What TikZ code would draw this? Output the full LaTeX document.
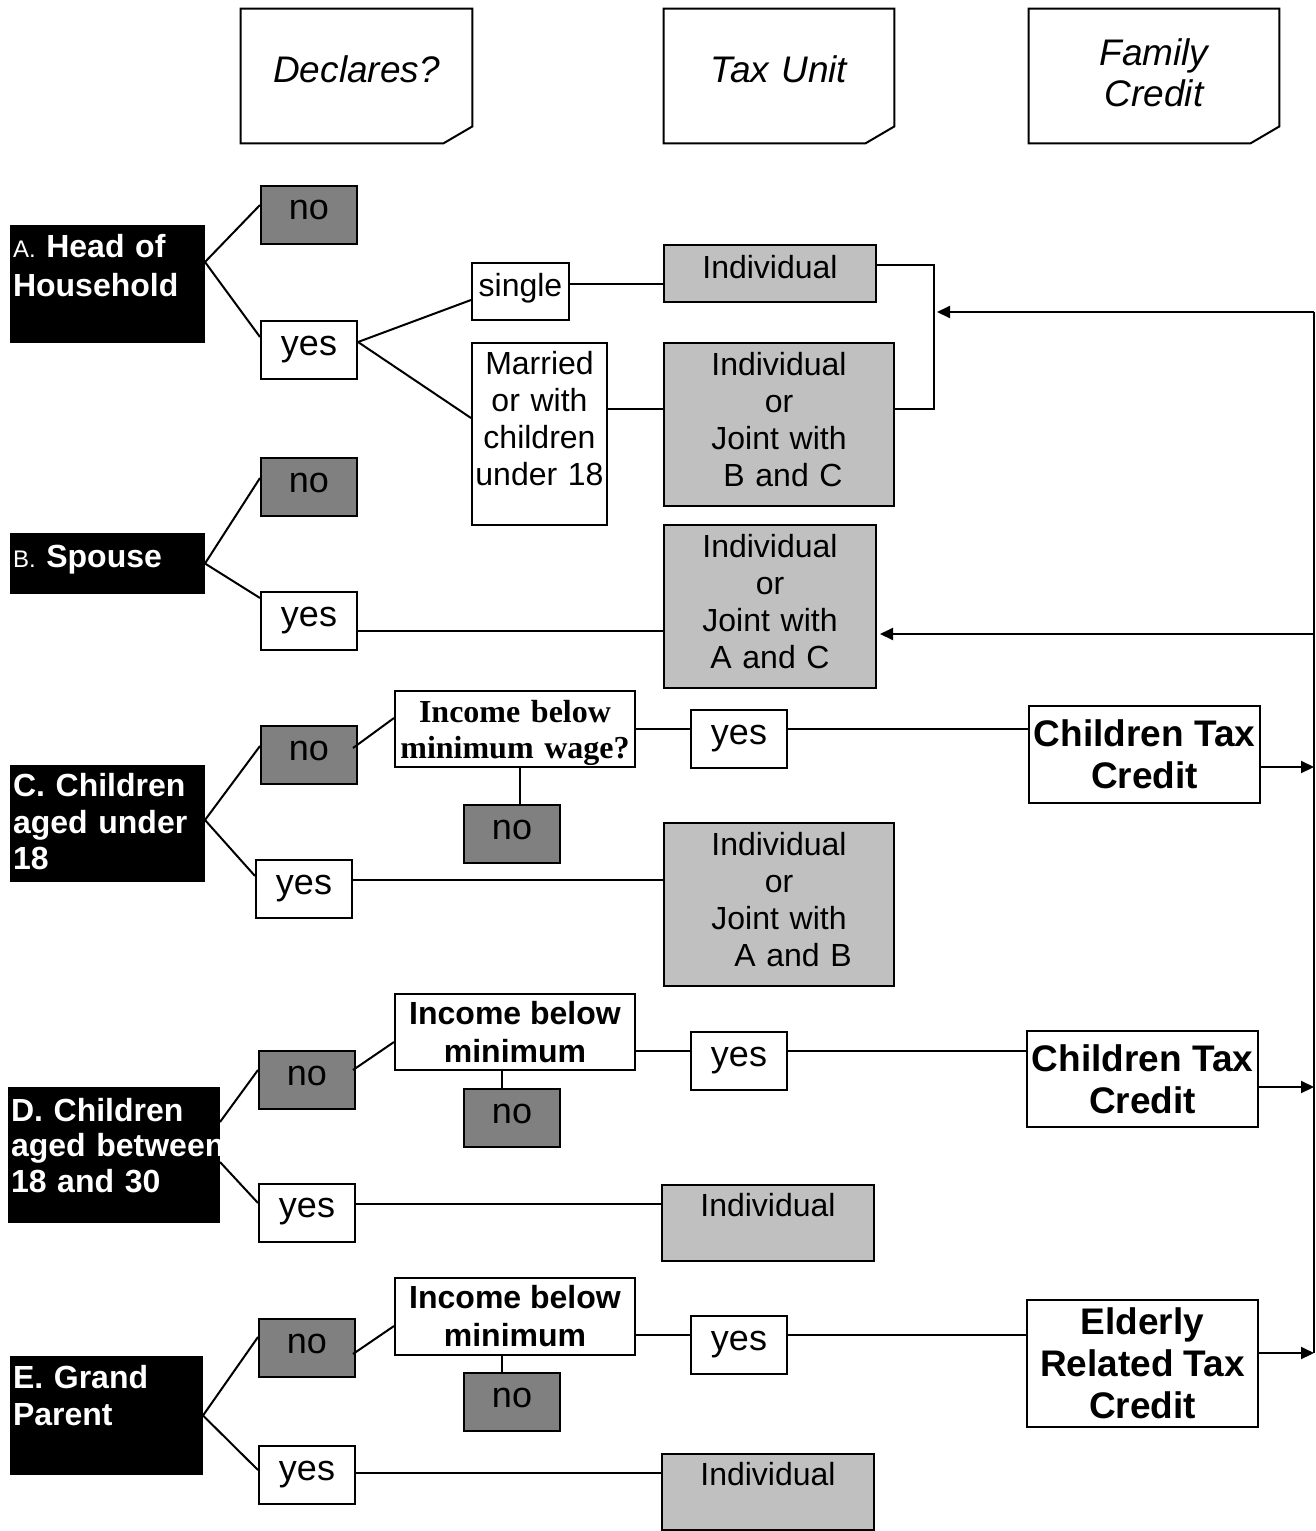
\documentclass[tikz,border=0pt]{standalone}
\usepackage{fontspec}
\setmainfont{Liberation Sans}
\newfontfamily\timesbf{Liberation Serif}
\usetikzlibrary{arrows.meta}
\definecolor{DarkGrey}{HTML}{808080}
\definecolor{LightGrey}{HTML}{C0C0C0}
\tikzset{
    % Box styles - all sharp corners
    header/.style={
        rectangle,
        inner sep=0pt,
        align=center,
        font=\fontsize{18.5}{20.5}\selectfont\itshape
    },
    member/.style={
        rectangle,
        draw=black,
        fill=black,
        text=white,
        line width=1pt,
        inner xsep=1pt,
        inner ysep=0pt,
        align=left,
        font=\fontsize{16}{18.25}\selectfont\bfseries
    },
    answer/.style={
        rectangle,
        draw=black,
        fill=DarkGrey,
        line width=1pt,
        minimum width=48pt,
        minimum height=29pt,
        inner sep=0pt,
        text height=10pt,
        text depth=5pt,
        font=\fontsize{18}{20}\selectfont
    },
    yesbox/.style={
        answer,
        fill=white
    },
    choice/.style={
        rectangle,
        draw=black,
        fill=white,
        line width=1pt,
        inner sep=0pt,
        align=center,
        font=\fontsize{16}{18.5}\selectfont
    },
    unit/.style={
        choice,
        fill=LightGrey
    },
    query/.style={
        rectangle,
        draw=black,
        fill=white,
        line width=1pt,
        minimum width=120pt,
        minimum height=38pt,
        inner sep=0pt,
        align=center,
        font=\fontsize{16}{19}\selectfont\bfseries
    },
    credit/.style={
        rectangle,
        draw=black,
        fill=white,
        line width=1pt,
        minimum width=115.5pt,
        inner sep=0pt,
        align=center,
        font=\fontsize{18.5}{21}\selectfont\bfseries
    },
    % Line styles - straight lines only
    link/.style={
        line width=1pt,
        draw=black
    },
    arrow/.style={
        ->,
        >={Triangle[length=6.5pt, width=6pt]},
        line width=1pt,
        draw=black
    }
}

\begin{document}
\begin{tikzpicture}[x=0.5pt, y=-0.5pt]
    \useasboundingbox (0,0) rectangle (1316,1531);

    % column headers
    \node[header, text width=115.5pt, text height=36.5pt, text depth=30.5pt] (hdecl) at (356.5,76) {Declares?};
    \node[header, text width=115pt, text height=36.5pt, text depth=30.5pt] (htax) at (779,76) {Tax Unit};
    \node[header, text width=125pt, text height=28pt, text depth=39pt] (hfam) at (1154,76) {Family\\Credit};
    \foreach \h in {hdecl, htax, hfam}
        \draw[link] (\h.north west) -- (\h.north east) -- ([yshift=8.5pt]\h.south east)
            -- ([xshift=-14.5pt]\h.south east) -- (\h.south west) -- cycle;

    % household members
    \node[member, text width=94.5pt, text height=15.75pt, text depth=42.25pt, font=\fontsize{16}{19.5}\selectfont\bfseries] (ahead) at (107.5,284) {{\mdseries\fontsize{12}{14}\selectfont A.} Head of\\Household};
    \node[member, text width=94.5pt, text height=16.75pt, text depth=12.75pt] (bspouse) at (107.5,563.5) {{\mdseries\fontsize{12}{14}\selectfont B.} Spouse};
    \node[member, text width=94.5pt, text height=15.25pt, text depth=42.25pt] (cchild) at (107.5,823.5) {C. Children\\aged under\\18};
    \node[member, text width=103pt, text height=16.5pt, text depth=50.5pt, font=\fontsize{16}{17.75}\selectfont\bfseries] (dchild) at (114,1155) {D. Children\\\mbox{aged between}\\18 and 30};
    \node[member, text width=93.5pt, text height=15.75pt, text depth=42.75pt] (egrand) at (106.5,1415.5) {E. Grand\\Parent};

    % A. head of household
    \node[answer] (ano) at (309,214.5) {no};
    \node[yesbox] (ayes) at (309,350) {yes};
    \node[choice, minimum width=48.5pt, text height=16.5pt, text depth=12pt] (single) at (520.5,291.5) {single};
    \node[choice, text width=67.5pt, text height=15.75pt, text depth=75.25pt] (married) at (539.5,434) {Married\\or with\\children\\under 18};
    \node[unit, minimum width=106pt, text height=16.75pt, text depth=11.75pt] (aind) at (770,273.5) {Individual};
    \node[unit, text width=115pt, text height=16.25pt, text depth=65.25pt] (aindj) at (779,424.5) {Individual\\or\\Joint with\\\hspace*{4pt}B and C};

    % B. spouse
    \node[answer] (bno) at (309,487) {no};
    \node[yesbox] (byes) at (309,621) {yes};
    \node[unit, text width=106pt, text height=16.25pt, text depth=65.25pt] (bindj) at (770,606.5) {Individual\\or\\Joint with\\A and C};

    % C. children under 18
    \node[answer] (cno) at (309,755) {no};
    \node[yesbox] (cyes) at (304,889) {yes};
    \node[query, text width=120pt, text height=15.75pt, text depth=22.25pt, font=\fontsize{16}{18}\selectfont\timesbf\bfseries] (cinc) at (515,729) {Income below\\minimum wage?};
    \node[answer] (cno2) at (512,834) {no};
    \node[yesbox] (cyes2) at (739,739) {yes};
    \node[credit, minimum height=48.5pt] (ccred) at (1144.5,754.5) {Children Tax\\Credit};
    \node[unit, text width=115pt, text height=16.25pt, text depth=65.25pt] (cindj) at (779,904.5) {Individual\\or\\Joint with\\\hspace*{14pt}A and B};

    % D. children 18 to 30
    \node[answer] (dno) at (307,1080) {no};
    \node[yesbox] (dyes) at (307,1212.5) {yes};
    \node[query] (dinc) at (515,1032) {Income below\\minimum};
    \node[answer] (dno2) at (512,1118) {no};
    \node[yesbox] (dyes2) at (739,1061) {yes};
    \node[credit, minimum height=48pt] (dcred) at (1142.5,1079) {Children Tax\\Credit};
    \node[unit, minimum width=106pt, text height=15.75pt, text depth=22.25pt] (dind) at (768,1223) {Individual};

    % E. grand parent
    \node[answer] (eno) at (307,1348) {no};
    \node[yesbox] (eyes) at (307,1475) {yes};
    \node[query, minimum height=38.5pt] (einc) at (515,1316.5) {Income below\\minimum};
    \node[answer] (eno2) at (512,1402) {no};
    \node[yesbox] (eyes2) at (739,1345) {yes};
    \node[credit, minimum height=63.5pt] (ecred) at (1142.5,1363.5) {Elderly\\Related Tax\\Credit};
    \node[unit, minimum width=106pt, text height=15.75pt, text depth=22.25pt] (eind) at (768,1492) {Individual};

    % branches A
    \draw[link] ([yshift=11pt]ahead.east) -- ([yshift=4.75pt]ano.west);
    \draw[link] ([yshift=11pt]ahead.east) -- ([yshift=6.5pt]ayes.west);
    \draw[link] ([yshift=4pt]ayes.east) -- ([yshift=-4.25pt]single.west);
    \draw[link] ([yshift=4pt]ayes.east) -- ([yshift=8pt]married.west);
    \draw[link] ([yshift=3.75pt]single.east) -- ([yshift=3.75pt]single.east -| aind.west);
    \draw[link] ([yshift=12.5pt]married.east) -- ([yshift=12.5pt]married.east -| aindj.west);
    \draw[link] ([yshift=4.25pt]aind.east) -- ++(57,0) |- ([yshift=7.75pt]aindj.east);

    % branches B
    \draw[link] (bspouse.east) -- ([yshift=4.5pt]bno.west);
    \draw[link] (bspouse.east) -- ([yshift=11.5pt]byes.west);
    \draw[link] ([yshift=-5pt]byes.east) -- ([yshift=-5pt]byes.east -| bindj.west);

    % branches C
    \draw[link] ([yshift=1.75pt]cchild.east) -- ([yshift=4.5pt]cno.west);
    \draw[link] ([yshift=1.75pt]cchild.east) -- ([yshift=6.5pt]cyes.west);
    \draw[link] ([xshift=-2.5pt, yshift=3.5pt]cno.east) -- ([yshift=5.5pt]cinc.west);
    \draw[link] ([xshift=2.5pt]cinc.south) -- ([xshift=2.5pt]cinc.south |- cno2.north);
    \draw[link] (cinc.east) -- (cinc.east -| cyes2.west);
    \draw[link] ([yshift=5pt]cyes2.east) -- ([yshift=5pt]cyes2.east -| ccred.west);
    \draw[link] ([yshift=4.5pt]cyes.east) -- ([yshift=4.5pt]cyes.east -| cindj.west);

    % branches D
    \draw[link] ([yshift=16.5pt]dchild.east) -- ([yshift=5pt]dno.west);
    \draw[link] ([yshift=-3.5pt]dchild.east) -- ([yshift=4.75pt]dyes.west);
    \draw[link] ([xshift=-1.5pt, yshift=5pt]dno.east) -- ([yshift=-5pt]dinc.west);
    \draw[link] ([xshift=-6.5pt]dinc.south) -- ([xshift=-6.5pt]dinc.south |- dno2.north);
    \draw[link] ([yshift=-9.5pt]dinc.east) -- ([yshift=-9.5pt]dinc.east -| dyes2.west);
    \draw[link] ([yshift=5pt]dyes2.east) -- ([yshift=5pt]dyes2.east -| dcred.west);
    \draw[link] ([yshift=4.25pt]dyes.east) -- ([yshift=4.25pt]dyes.east -| dind.west);

    % branches E
    \draw[link] (egrand.east) -- ([yshift=5.5pt]eno.west);
    \draw[link] (egrand.east) -- ([yshift=2.5pt]eyes.west);
    \draw[link] ([xshift=-1.5pt, yshift=-3pt]eno.east) -- ([yshift=-4.75pt]einc.west);
    \draw[link] ([xshift=-6.5pt]einc.south) -- ([xshift=-6.5pt]einc.south |- eno2.north);
    \draw[link] ([yshift=-9.25pt]einc.east) -- ([yshift=-9.25pt]einc.east -| eyes2.west);
    \draw[link] ([yshift=5pt]eyes2.east) -- ([yshift=5pt]eyes2.east -| ecred.west);
    \draw[link] ([yshift=1pt]eyes.east) -- ([yshift=1pt]eyes.east -| eind.west);

    % feedback rail
    \coordinate (railtop) at (1314,312);
    \coordinate (railbot) at (1314,1353);
    \coordinate (ajoin) at (937,312);
    \coordinate (bjoin) at (880,634);
    \draw[link] (railtop) -- (railbot);
    \draw[arrow] (railtop) -- (ajoin);
    \draw[arrow] (railtop |- bjoin) -- (bjoin);
    \draw[arrow] ([yshift=-6.25pt]ccred.east) -- ([yshift=-6.25pt]ccred.east -| railtop);
    \draw[arrow] ([yshift=-4pt]dcred.east) -- ([yshift=-4pt]dcred.east -| railtop);
    \draw[arrow] ([yshift=5.25pt]ecred.east) -- ([yshift=5.25pt]ecred.east -| railtop);
\end{tikzpicture}
\end{document}
